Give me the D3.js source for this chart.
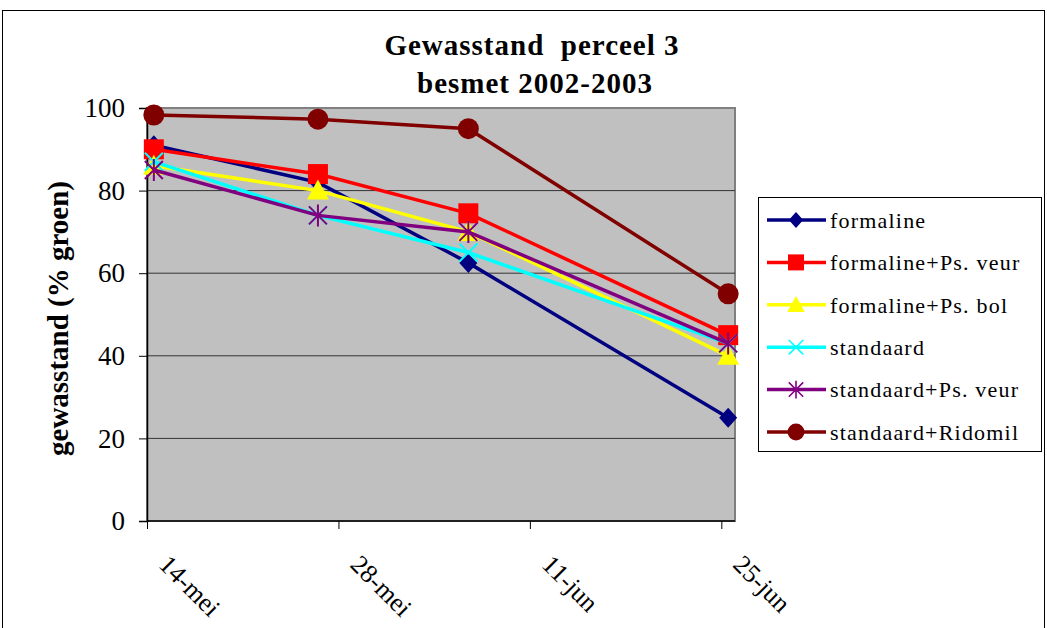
<!DOCTYPE html>
<html>
<head>
<meta charset="utf-8">
<script src="https://cdn.jsdelivr.net/npm/d3@7"></script>
<style>
	body { margin: 0; background: #fff; }
	svg { display: block; font-family: 'Liberation Serif', 'Times New Roman', serif; }
</style>
</head>
<body>
<div id="chart"></div>
<script>
// data
const dates = ['2003-05-14', '2003-05-26', '2003-06-06', '2003-06-25'];
const seriesNames = [
	'formaline',
	'formaline+Ps. veur',
	'formaline+Ps. bol',
	'standaard',
	'standaard+Ps. veur',
	'standaard+Ridomil'
];
const formaline = [91, 82, 62.5, 25];
const formalinePsVeur = [90, 84, 74.5, 45];
const formalinePsBol = [86, 80, 70, 40];
const standaard = [87, 74, 65, 43];
const standaardPsVeur = [85, 74, 70, 43];
const standaardRidomil = [98.3, 97.3, 95, 55];
const tickDates = ['2003-05-14', '2003-05-28', '2003-06-11', '2003-06-25'];
const tickLabels = ['14-mei', '28-mei', '11-jun', '25-jun'];
const yTicks = [0, 20, 40, 60, 80, 100];

const colors = ['#000080', '#ff0000', '#ffff00', '#00ffff', '#800080', '#800000'];
const shapes = ['diamond', 'square', 'triangle', 'x', 'star', 'circle'];
const values = [formaline, formalinePsVeur, formalinePsBol, standaard, standaardPsVeur, standaardRidomil];

const parse = d3.timeParse('%Y-%m-%d');
const DAY = 864e5;

const width = 1047;
const height = 628;
const plot = { left: 147, right: 735, top: 108, bottom: 521 };

const $svg = d3.select('#chart').append('svg')
	.attr('width', width)
	.attr('height', height);

// outer frame
$svg.append('rect')
	.attr('x', 2.5).attr('y', 10.5)
	.attr('width', 1042).attr('height', 640)
	.attr('fill', '#fff').attr('stroke', '#000').attr('stroke-width', 1);

// scales
const x = d3.scaleTime()
	.domain([parse('2003-05-14'), new Date(+parse('2003-06-25') + DAY)])
	.range([plot.left, plot.right]);
const y = d3.scaleLinear().domain([0, 100]).range([plot.bottom, plot.top]);
// points sit in the middle of their day
const px = d => x(new Date(+parse(d) + DAY / 2));

// plot area
$svg.append('rect')
	.attr('x', plot.left).attr('y', plot.top)
	.attr('width', plot.right - plot.left).attr('height', plot.bottom - plot.top)
	.attr('fill', '#c0c0c0').attr('stroke', '#808080').attr('stroke-width', 2);

// gridlines
$svg.append('g')
	.selectAll('line')
	.data(yTicks.filter(d => d > 0 && d < 100))
	.join('line')
	.attr('x1', plot.left).attr('x2', plot.right)
	.attr('y1', d => y(d)).attr('y2', d => y(d))
	.attr('stroke', '#333').attr('stroke-width', 1);

// y axis
const $yAxis = $svg.append('g')
	.attr('transform', `translate(${plot.left},0)`)
	.call(d3.axisLeft(y).tickValues(yTicks).tickSize(8).tickPadding(14));
$yAxis.select('.domain').attr('stroke', '#000').attr('stroke-width', 1.5);
$yAxis.selectAll('.tick line').attr('stroke', '#000');
$yAxis.selectAll('.tick text')
	.attr('font-family', 'Liberation Serif')
	.attr('font-size', 27)
	.attr('fill', '#000');

// x axis
const $xAxis = $svg.append('g')
	.attr('transform', `translate(0,${plot.bottom})`)
	.call(d3.axisBottom(x)
		.tickValues(tickDates.map(parse))
		.tickFormat((d, i) => tickLabels[i])
		.tickSize(8));
$xAxis.select('.domain').attr('stroke', '#000').attr('stroke-width', 1.5)
	.attr('d', `M${plot.left},0H${plot.right}`);
$xAxis.selectAll('.tick line').attr('stroke', '#000');
$xAxis.selectAll('.tick text')
	.attr('font-family', 'Liberation Serif')
	.attr('font-size', 26)
	.attr('fill', '#000')
	.attr('text-anchor', 'start')
	.attr('x', 0).attr('y', 0).attr('dy', 0)
	.attr('transform', 'translate(10,45) rotate(45)');

// symbols
function drawMarker(sel, shape, color) {
	if (shape === 'diamond') {
		sel.append('path').attr('d', 'M0,-10L9,0L0,10L-9,0Z').attr('fill', color);
	} else if (shape === 'square') {
		sel.append('rect').attr('x', -10).attr('y', -10).attr('width', 20).attr('height', 20).attr('fill', color);
	} else if (shape === 'triangle') {
		sel.append('path').attr('d', 'M0,-11L11,9L-11,9Z').attr('fill', color);
	} else if (shape === 'circle') {
		sel.append('circle').attr('r', 10.5).attr('fill', color);
	} else if (shape === 'x') {
		sel.append('path').attr('d', 'M-9,-9L9,9M-9,9L9,-9').attr('stroke', color).attr('stroke-width', 2).attr('fill', 'none');
	} else if (shape === 'star') {
		sel.append('path').attr('d', 'M-9,-9L9,9M-9,9L9,-9M0,-11V11').attr('stroke', color).attr('stroke-width', 2).attr('fill', 'none');
	}
}

const line = d3.line().x(d => px(d.date)).y(d => y(d.value));

const series = seriesNames.map((name, i) => ({
	name,
	color: colors[i],
	shape: shapes[i],
	points: dates.map((date, j) => ({ date, value: values[i][j] }))
}));

const $series = $svg.append('g')
	.selectAll('g')
	.data(series)
	.join('g');

$series.append('path')
	.attr('d', d => line(d.points))
	.attr('fill', 'none')
	.attr('stroke', d => d.color)
	.attr('stroke-width', 3.5);

$series.each(function (s) {
	d3.select(this).selectAll('.marker')
		.data(s.points)
		.join('g')
		.attr('class', 'marker')
		.attr('transform', d => `translate(${px(d.date)},${y(d.value)})`)
		.each(function () { drawMarker(d3.select(this), s.shape, s.color); });
});

// y label
$svg.append('text')
	.attr('transform', `translate(68,${(plot.top + plot.bottom) / 2 + 4}) rotate(-90)`)
	.attr('text-anchor', 'middle')
	.attr('font-size', 29)
	.attr('font-weight', 'bold')
	.text('gewasstand (% groen)');

// title (keep the double space)
const $title = $svg.append('text')
	.attr('text-anchor', 'middle')
	.attr('font-size', 29)
	.attr('font-weight', 'bold')
	.attr('letter-spacing', 1)
	.style('white-space', 'pre');
$title.append('tspan').attr('x', 532).attr('y', 55).text('Gewasstand  perceel 3');
$title.append('tspan').attr('x', 535).attr('y', 93).text('besmet 2002-2003');

// legend
const legend = { x: 758, y: 197, w: 283, h: 254, step: 42.4 };
$svg.append('rect')
	.attr('x', legend.x + 0.5).attr('y', legend.y + 0.5)
	.attr('width', legend.w).attr('height', legend.h)
	.attr('fill', '#fff').attr('stroke', '#000').attr('stroke-width', 1);

const $items = $svg.append('g')
	.selectAll('g')
	.data(series)
	.join('g')
	.attr('transform', (d, i) => `translate(${legend.x},${legend.y + 23 + i * legend.step})`);

$items.append('line')
	.attr('x1', 9).attr('x2', 68)
	.attr('stroke', d => d.color)
	.attr('stroke-width', 3.5);
$items.each(function (d) {
	const $m = d3.select(this).append('g').attr('transform', 'translate(38,0) scale(0.8)');
	drawMarker($m, d.shape, d.color);
});
$items.append('text')
	.attr('x', 72)
	.attr('dy', '0.35em')
	.attr('font-size', 22)
	.attr('letter-spacing', 1.2)
	.text(d => d.name);
</script>
</body>
</html>
